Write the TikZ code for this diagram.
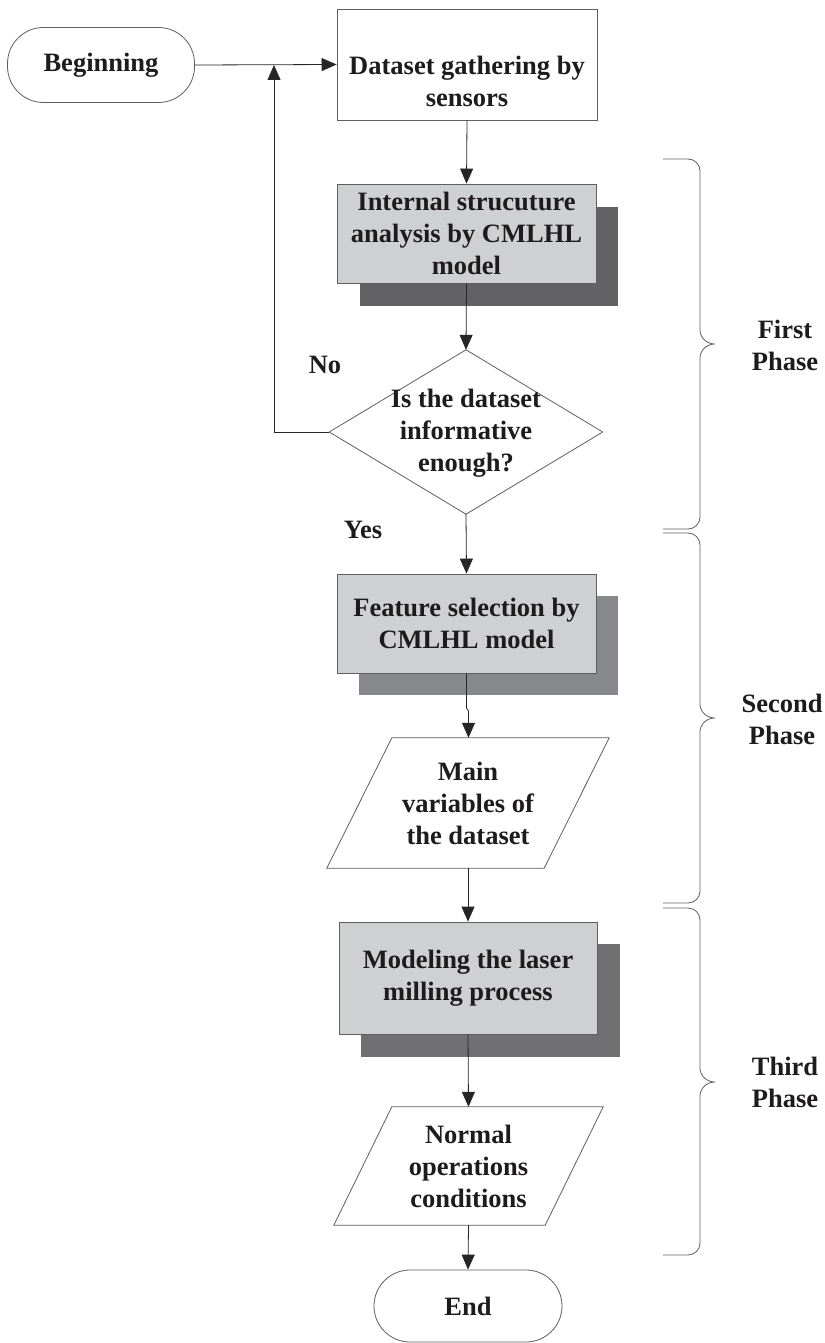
\documentclass[tikz,border=0pt]{standalone}
\usepackage{fontspec}
\setmainfont{Liberation Serif}
\usetikzlibrary{arrows.meta,calc,shapes.geometric}
\definecolor{boxfill}{RGB}{207,208,210}
\definecolor{shadowA}{RGB}{98,98,100}
\definecolor{shadowB}{RGB}{135,136,139}
\definecolor{shadowC}{RGB}{112,112,115}
\definecolor{linegray}{RGB}{95,95,95}
\definecolor{textblack}{RGB}{30,27,28}
\tikzset{
  every node/.style={font=\fontsize{26.5}{32}\selectfont\bfseries, text=textblack, align=center, inner sep=0pt},
  stadium/.style={draw=linegray, line width=0.8pt, fill=white, rounded corners=36pt},
  plainbox/.style={draw=linegray, line width=0.8pt, fill=white},
  graybox/.style={draw=linegray, line width=0.8pt, fill=boxfill},
  shadowbox/.style={draw=none},
  flow/.style={draw=black!85, line width=0.8pt, -{Triangle[length=15pt,width=13pt]}},
  bracepath/.style={draw=linegray, line width=0.8pt},
}
\begin{document}
\begin{tikzpicture}[x=1pt,y=-1pt]
\useasboundingbox (0,0) rectangle (824,1343);

% Beginning
\node[stadium, minimum width=187, minimum height=75] (begin) at (101,65) {Beginning};

% Dataset gathering
\node[plainbox, minimum width=260, minimum height=111] (data) at (467,64.5) {};
\node (datatext) at (467,81) {Dataset gathering by\\sensors};

% Internal structure
\node[shadowbox, fill=shadowA, minimum width=258, minimum height=99] (intsh) at (489,256.5) {};
\node[graybox, minimum width=259, minimum height=99] (internal) at (466.5,233.5) {Internal strucuture\\analysis by CMLHL\\model};

% Decision
\node[minimum width=273, minimum height=164] (decbb) at (466,432) {};
\draw[linegray, line width=0.8pt, fill=white] (decbb.north) -- (decbb.east) -- (decbb.south) -- (decbb.west) -- cycle;
\node (dectext) at (466,433) {Is the dataset\\informative\\enough?};

% Feature selection
\node[shadowbox, fill=shadowB, minimum width=259, minimum height=99] (featsh) at (488.5,645.5) {};
\node[graybox, minimum width=259, minimum height=99] (feat) at (466.5,623.5) {Feature selection by\\CMLHL model};

% Main variables (parallelogram)
\node[minimum width=282, minimum height=130] (para1) at (468,803) {};
\draw[linegray, line width=0.8pt, fill=white] ($(para1.north west)+(65,0)$) -- (para1.north east) -- ($(para1.south east)-(65,0)$) -- (para1.south west) -- cycle;
\node (para1text) at (468,803) {Main\\variables of\\the dataset};

% Modeling
\node[shadowbox, fill=shadowC, minimum width=259, minimum height=113] (modsh) at (490.5,1000.5) {};
\node[graybox, minimum width=258, minimum height=112] (model) at (468,978) {Modeling the laser\\milling process};

% Normal operations (parallelogram)
\node[minimum width=269, minimum height=118] (para2) at (468.5,1166) {};
\draw[linegray, line width=0.8pt, fill=white] ($(para2.north west)+(58,0)$) -- (para2.north east) -- ($(para2.south east)-(58,0)$) -- (para2.south west) -- cycle;
\node (para2text) at (468.5,1166) {Normal\\operations\\conditions};

% End
\node[stadium, minimum width=188, minimum height=72] (end) at (468,1306) {End};

% Connectors
\coordinate (loopa) at (274,432);
\coordinate (loopb) at (274,65);
\coordinate (jog) at (466.5,708);
\draw[flow] (begin.east) -- (data.west);
\draw[flow] (data.south) -- (internal.north);
\draw[flow] (internal.south) -- (decbb.north);
\draw[flow] (decbb.west) -- (loopa) -- (loopb);
\draw[flow] (decbb.south) -- (feat.north);
\draw[flow] (feat.south) -- (jog) -- ($(jog)+(2,3)$) -- (para1.north -| 468.5,0);
\draw[flow] (para1.south) -- (model.north);
\draw[flow] (model.south) -- (para2.north);
\draw[flow] (para2.south) -- (end.north);

% Labels
\node (no) at (325,365) {No};
\node (yes) at (363,530) {Yes};

% Braces
\draw[bracepath] (663,159) -- (688,159) to[out=0,in=90] (700,171) -- (700,330) to[out=-90,in=180] (715,344) to[out=180,in=90] (700,358) -- (700,517) to[out=-90,in=0] (688,529) -- (663,529);
\draw[bracepath] (663,533) -- (688,533) to[out=0,in=90] (700,545) -- (700,704) to[out=-90,in=180] (715,718) to[out=180,in=90] (700,732) -- (700,891) to[out=-90,in=0] (688,903) -- (663,903);
\draw[bracepath] (663,908) -- (688,908) to[out=0,in=90] (700,920) -- (700,1068) to[out=-90,in=180] (715,1082) to[out=180,in=90] (700,1096) -- (700,1243) to[out=-90,in=0] (688,1255) -- (663,1255);

\node (ph1) at (785,345) {First\\Phase};
\node (ph2) at (782,719) {Second\\Phase};
\node (ph3) at (785,1082) {Third\\Phase};
\end{tikzpicture}
\end{document}
